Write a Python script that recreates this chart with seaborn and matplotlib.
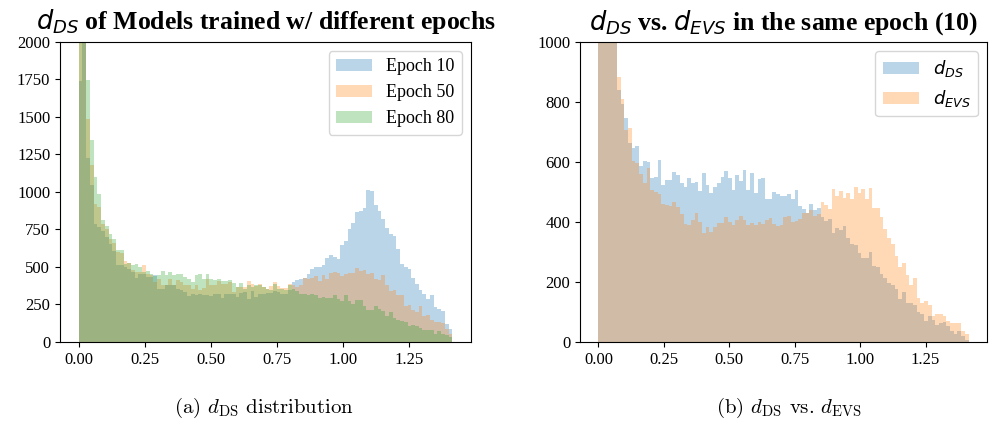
import numpy as np
import pandas as pd
import matplotlib
matplotlib.use("Agg")
import matplotlib.pyplot as plt
from matplotlib.ticker import MultipleLocator, FormatStrFormatter
import seaborn as sns

# histogram bin setup (100 bins on [0, sqrt(2)])
bin_max = 1.414
n_bins = 100

# left panel: d_DS counts per bin for each epoch
epoch10 = [1740, 2100, 1227, 1049, 789, 767, 740, 700, 656, 608,
           511, 511, 500, 489, 467, 429, 456, 456, 433, 433,
           445, 356, 356, 378, 378, 378, 356, 349, 334, 305,
           322, 311, 318, 311, 311, 305, 322, 318, 294, 322,
           322, 318, 300, 327, 334, 289, 338, 300, 322, 318,
           327, 327, 338, 334, 318, 322, 345, 398, 416, 422,
           427, 456, 489, 500, 500, 511, 562, 578, 565, 551,
           645, 671, 751, 793, 867, 874, 894, 1011, 1007, 911,
           871, 822, 762, 718, 707, 618, 522, 500, 485, 427,
           385, 345, 322, 285, 316, 234, 222, 205, 122, 89]
epoch50 = [2300, 2300, 1489, 1183, 922, 900, 785, 750, 689, 660,
           603, 590, 538, 527, 478, 467, 467, 516, 456, 445,
           400, 420, 378, 378, 422, 378, 411, 400, 378, 378,
           356, 378, 345, 360, 422, 378, 378, 405, 389, 389,
           400, 333, 367, 367, 367, 405, 389, 371, 389, 367,
           356, 371, 398, 371, 362, 360, 389, 378, 367, 378,
           427, 422, 429, 438, 407, 445, 422, 460, 467, 460,
           438, 451, 462, 462, 496, 471, 482, 451, 460, 422,
           411, 449, 382, 338, 345, 316, 316, 238, 249, 211,
           200, 238, 174, 178, 145, 134, 134, 129, 89, 56]
epoch80 = [2500, 2400, 1749, 1345, 1100, 989, 811, 776, 722, 689,
           615, 616, 523, 527, 511, 522, 500, 467, 471, 456,
           438, 445, 471, 445, 467, 445, 456, 456, 433, 422,
           400, 449, 456, 422, 456, 422, 416, 418, 405, 407,
           411, 396, 367, 396, 356, 378, 367, 378, 378, 367,
           356, 345, 384, 350, 355, 349, 378, 356, 340, 318,
           322, 311, 322, 311, 296, 300, 294, 296, 311, 289,
           274, 311, 274, 251, 278, 278, 238, 216, 211, 238,
           222, 207, 171, 200, 162, 149, 138, 134, 107, 111,
           107, 96, 78, 78, 78, 56, 74, 51, 45, 34]
left_labels = ["Epoch 10", "Epoch 50", "Epoch 80"]

# right panel: d_DS vs d_EVS at epoch 10
d_ds = [2000, 1800, 1400, 1150, 1030, 839, 792, 747, 663, 646,
        652, 585, 602, 599, 545, 549, 605, 523, 540, 540,
        568, 557, 529, 518, 546, 529, 532, 503, 562, 523,
        495, 515, 529, 551, 570, 546, 505, 556, 537, 572,
        505, 562, 498, 542, 546, 475, 478, 501, 494, 488,
        488, 494, 475, 505, 454, 444, 431, 460, 441, 448,
        417, 404, 411, 364, 379, 372, 388, 347, 327, 324,
        297, 281, 280, 300, 254, 251, 226, 213, 196, 189,
        178, 142, 165, 131, 129, 123, 100, 94, 70, 88,
        73, 58, 64, 65, 54, 38, 27, 38, 21, 8]
d_evs = [2100, 1900, 1500, 1200, 1040, 884, 809, 708, 714, 602,
         596, 560, 530, 579, 506, 501, 493, 461, 456, 452,
         467, 450, 428, 394, 391, 405, 431, 400, 364, 383,
         366, 384, 396, 396, 417, 400, 389, 405, 420, 405,
         389, 398, 389, 400, 394, 408, 414, 393, 385, 391,
         417, 420, 401, 404, 411, 431, 429, 440, 420, 425,
         465, 458, 442, 509, 488, 503, 481, 495, 478, 515,
         495, 509, 478, 512, 448, 445, 418, 375, 347, 327,
         288, 249, 263, 224, 190, 213, 148, 131, 135, 122,
         85, 94, 92, 86, 70, 64, 63, 63, 36, 25]
right_labels = [r"$d_{DS}$", r"$d_{EVS}$"]

edges = np.linspace(0, bin_max, n_bins + 1)
centers = (edges[:-1] + edges[1:]) / 2

plt.rcParams['font.family'] = ['Liberation Serif', 'DejaVu Serif']
plt.rcParams['mathtext.fontset'] = 'dejavusans'

fig = plt.figure(figsize=(10.05, 4.25), dpi=100)
ax1 = fig.add_axes([0.0597, 0.1953, 0.409, 0.7059])
ax2 = fig.add_axes([0.5771, 0.1953, 0.405, 0.7059])

colors = sns.color_palette("tab10")


def draw(ax, series, labels):
    for counts, lab, col in zip(series, labels, colors):
        df = pd.DataFrame({"d": centers, "n": counts})
        sns.histplot(data=df, x="d", weights="n", bins=n_bins, binrange=(0, bin_max),
                     color=col, alpha=0.3, linewidth=0, label=lab, ax=ax)


draw(ax1, [epoch10, epoch50, epoch80], left_labels)
draw(ax2, [d_ds, d_evs], right_labels)

ax1.set_ylim(0, 2000)
ax1.set_yticks(range(0, 2001, 250))
ax2.set_ylim(0, 1000)
ax2.set_yticks(range(0, 1001, 200))

ax1.set_title(r"$d_{DS}$ of Models trained w/ different epochs", fontsize=18.5,
              fontweight='bold', pad=9)
ax2.set_title(r"$d_{DS}$ vs. $d_{EVS}$ in the same epoch (10)", fontsize=18.5,
              fontweight='bold', pad=9)

for ax in (ax1, ax2):
    ax.set_xlabel("")
    ax.set_ylabel("")
    ax.xaxis.set_major_locator(MultipleLocator(0.25))
    ax.xaxis.set_major_formatter(FormatStrFormatter("%.2f"))
    ax.tick_params(labelsize=12)
    ax.legend(loc='upper right', fontsize=13)

# sub-captions as in the paper
fig.text(0.263, 0.04, r"(a) $d_{\mathrm{DS}}$ distribution", family='cmr10',
         math_fontfamily='cm', fontsize=15, ha='center', va='center')
fig.text(0.785, 0.04, r"(b) $d_{\mathrm{DS}}$ vs. $d_{\mathrm{EVS}}$", family='cmr10',
         math_fontfamily='cm', fontsize=15, ha='center', va='center')

fig.savefig("out.png", dpi=100)
